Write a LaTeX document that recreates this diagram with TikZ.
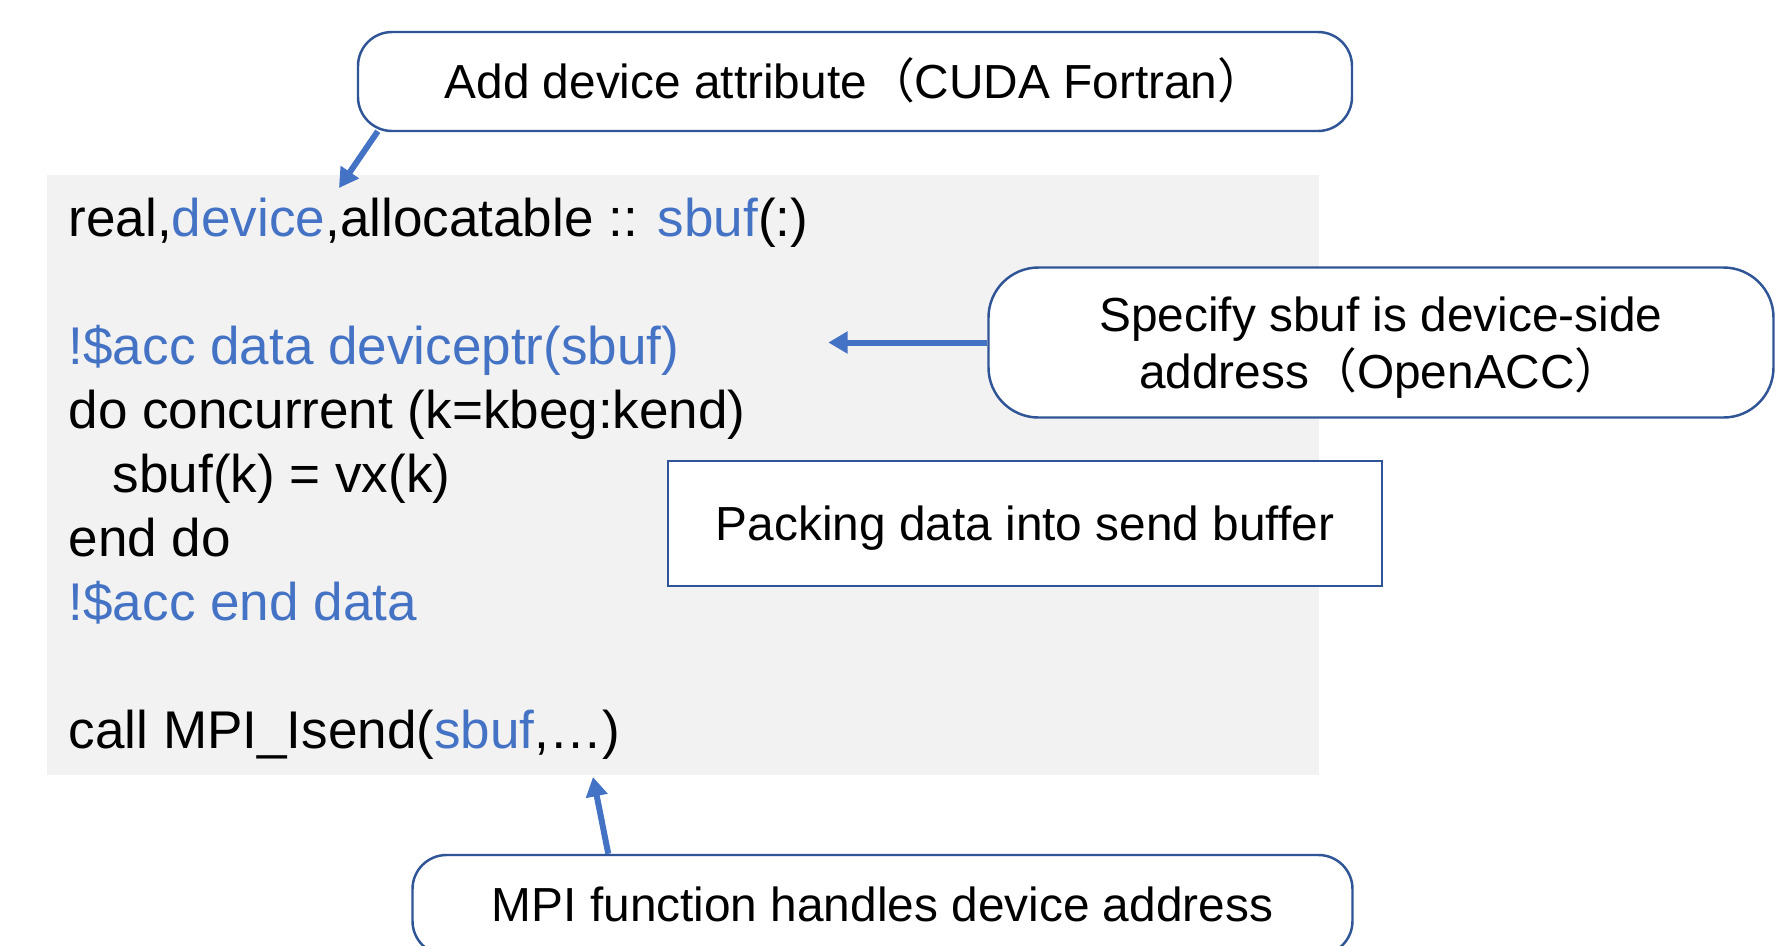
\documentclass[tikz,border=0pt]{standalone}
\usepackage{fontspec}
\setmainfont{Liberation Sans}
\newfontfamily\cjk{Noto Sans CJK SC}
\usetikzlibrary{arrows.meta,calc}
\definecolor{codeblue}{HTML}{4472C4}
\definecolor{boxblue}{HTML}{2F5597}
\definecolor{codegray}{HTML}{F2F2F2}
\newcommand{\fwlp}{{\cjk （}}
\newcommand{\fwrp}{{\cjk ）}}
\begin{document}
\begin{tikzpicture}[x=0.1mm,y=-0.1mm,
  code/.style={anchor=base west, inner sep=0pt, font=\fontsize{15.1}{18}\selectfont},
  callout/.style={draw=boxblue, line width=0.7pt, fill=white, rounded corners=3.4mm,
    inner sep=0pt, font=\fontsize{13.6}{16.2}\selectfont, text=black},
  plainbox/.style={draw=boxblue, line width=0.8pt, fill=white,
    inner sep=0pt, font=\fontsize{13.6}{16.2}\selectfont, text=black},
  oneline/.style={text height=0.96em, text depth=0pt},
  arr/.style={draw=codeblue, line width=1.7pt, -{Triangle[length=5.5pt,width=6pt]}}]
\useasboundingbox (0,0) rectangle (1787,945);
% code panel
\fill[codegray] (47,175) rectangle (1319,775);
% code lines
\node[code] (l1) at (68,236) {real,\textcolor{codeblue}{device},allocatable :: \textcolor{codeblue}{sbuf}(:)};
\node[code,text=codeblue] (l2) at (68,364) {!\$acc data deviceptr(sbuf)};
\node[code] (l3) at (68,428) {do concurrent (k=kbeg:kend)};
\node[code] (l4) at (112,492) {sbuf(k) = vx(k)};
\node[code] (l5) at (68,556) {end do};
\node[code,text=codeblue] (l6) at (68,620) {!\$acc end data};
\node[code] (l7) at (68,748) {call MPI\_Isend(\textcolor{codeblue}{sbuf},…)};
% callouts
\node[callout,oneline,minimum width=99.4mm,minimum height=9.9mm] (top) at (855,81.5)
  {Add device attribute\fwlp CUDA Fortran\fwrp};
\node[callout,rounded corners=5mm,align=center,minimum width=78.5mm,minimum height=15mm] (b2) at (1381,342.5)
  {Specify sbuf is device-side\\ \raisebox{0pt}[\height][0pt]{address\fwlp OpenACC\fwrp}};
\node[plainbox,oneline,minimum width=71.4mm,minimum height=12.5mm] (b3) at (1025,523.5)
  {Packing data into send buffer};
\node[callout,oneline,minimum width=94mm,minimum height=10mm] (b4) at (882.5,905)
  {MPI function handles device address};
% arrows
\coordinate (t1) at (339,188);
\draw[arr] ($(top.south west)+(21,-1)$) -- (t1);
\coordinate (t2) at ($(b2.west)+(-159,0)$);
\draw[arr] (b2.west) -- (t2);
\coordinate (t4) at (593,777);
\draw[arr] ($(b4.north west)+(197,0)$) -- (t4);
\end{tikzpicture}
\end{document}
